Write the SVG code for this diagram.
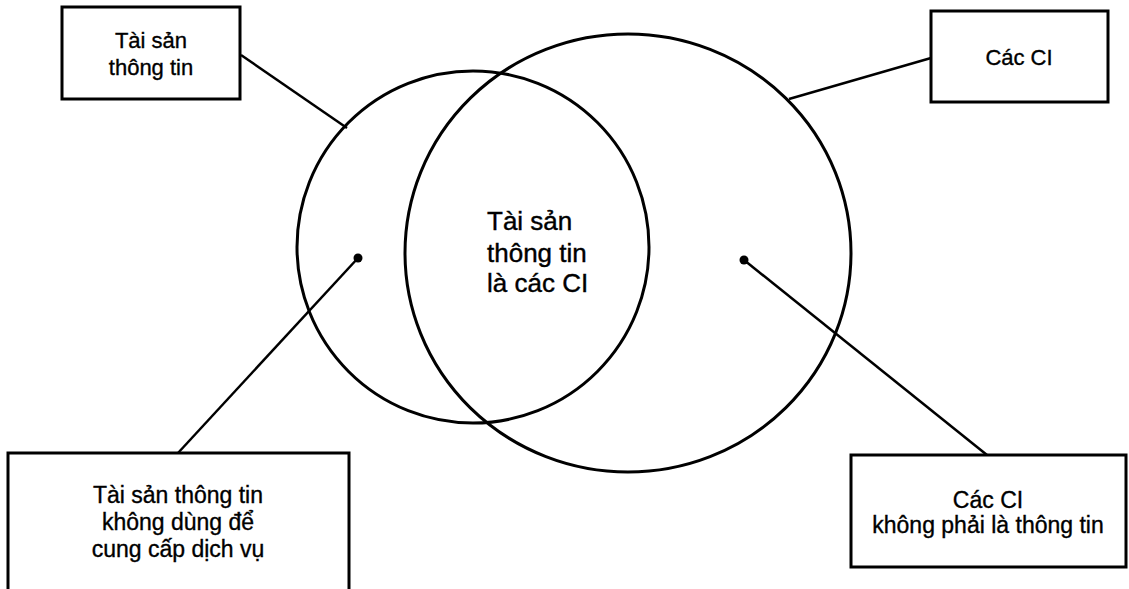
<svg xmlns="http://www.w3.org/2000/svg" width="1129" height="589" viewBox="0 0 1129 589">
<style>
.box{fill:#fff;stroke:#000;stroke-width:3}
.circ{fill:none;stroke:#000;stroke-width:3}
.ln{stroke:#000;stroke-width:2.5;fill:none}
.t{font-family:"Liberation Sans",Arial,sans-serif;font-size:22px;fill:#000;stroke:#000;stroke-width:0.35;text-anchor:middle}
.b{font-size:23px}
.c{font-family:"Liberation Sans",Arial,sans-serif;font-size:26px;fill:#000;stroke:#000;stroke-width:0.4}
</style>
<rect width="1129" height="589" fill="#fff"/>
<g id="circles">
<ellipse id="info-assets" class="circ" cx="473" cy="247" rx="176" ry="176"/>
<ellipse id="cis" class="circ" cx="628" cy="253" rx="223" ry="219"/>
</g>
<g id="connectors">
<line class="ln" x1="241" y1="55" x2="347" y2="128"/>
<line class="ln" x1="931" y1="58" x2="789" y2="99"/>
<line class="ln" x1="358" y1="258" x2="178" y2="453"/>
<line class="ln" x1="744" y1="260" x2="987" y2="455"/>
<circle cx="358" cy="258" r="4.5" fill="#000"/>
<circle cx="744" cy="260" r="4.5" fill="#000"/>
</g>
<g id="center-label">
<text class="c" x="487" y="230">Tài sản</text>
<text class="c" x="487" y="262">thông tin</text>
<text class="c" x="487" y="292">là các CI</text>
</g>
<g id="node-tl">
<rect class="box" x="62" y="7" width="178" height="92"/>
<text class="t" x="151" y="48">Tài sản</text>
<text class="t" x="151" y="75">thông tin</text>
</g>
<g id="node-tr">
<rect class="box" x="931" y="11" width="177" height="91"/>
<text class="t" x="1019" y="65">Các CI</text>
</g>
<g id="node-bl">
<rect class="box" x="8" y="453" width="341" height="150"/>
<text class="t b" x="178" y="503">Tài sản thông tin</text>
<text class="t b" x="178" y="530">không dùng để</text>
<text class="t b" x="178" y="557">cung cấp dịch vụ</text>
</g>
<g id="node-br">
<rect class="box" x="851" y="455" width="275" height="112"/>
<text class="t b" x="988" y="508">Các CI</text>
<text class="t b" x="988" y="533">không phải là thông tin</text>
</g>
</svg>
